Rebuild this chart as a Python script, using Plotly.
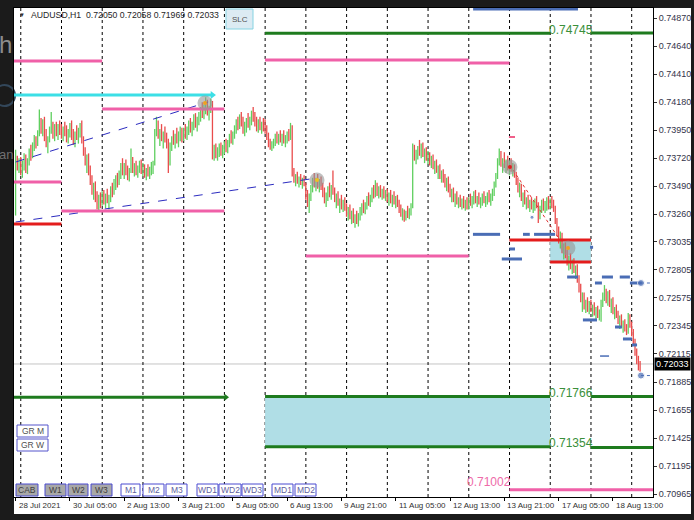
import plotly.graph_objects as go

# ---------------- data (AUDUSD H1) ----------------
# bar 0 = 28 Jul 21:00, one bar per hour (trading hours only)
highs = [
    0.7379, 0.7374, 0.7372,
    0.7373, 0.7370, 0.7376, 0.7375, 0.7372, 0.7380, 0.7383, 0.7385, 0.7391, 0.7390, 0.7395, 0.7412, 0.7405, 0.7404, 0.7406, 0.7396, 0.7390, 0.7398, 0.7410, 0.7402, 0.7400, 0.7402, 0.7400, 0.7403,
    0.7400, 0.7398, 0.7402, 0.7399, 0.7396, 0.7401, 0.7403, 0.7396, 0.7394, 0.7399, 0.7397, 0.7401, 0.7403, 0.7390, 0.7381, 0.7375, 0.7376, 0.7366, 0.7358, 0.7352, 0.7353, 0.7345, 0.7342, 0.7344,
    0.7345, 0.7346, 0.7343, 0.7347, 0.7342, 0.7349, 0.7352, 0.7355, 0.7358, 0.7360, 0.7362, 0.7368, 0.7372, 0.7368, 0.7371, 0.7366, 0.7364, 0.7380, 0.7373, 0.7368, 0.7370, 0.7366, 0.7370, 0.7371,
    0.7368, 0.7367, 0.7364, 0.7367, 0.7365, 0.7369, 0.7370, 0.7396, 0.7406, 0.7403, 0.7396, 0.7400, 0.7394, 0.7398, 0.7393, 0.7388, 0.7385, 0.7390, 0.7395, 0.7392, 0.7397, 0.7394, 0.7398, 0.7397,
    0.7397, 0.7400, 0.7398, 0.7403, 0.7405, 0.7402, 0.7408, 0.7409, 0.7406, 0.7410, 0.7414, 0.7418, 0.7416, 0.7422, 0.7420, 0.7415, 0.7421, 0.7419, 0.7383, 0.7384, 0.7381, 0.7384, 0.7385, 0.7383,
    0.7386, 0.7388, 0.7387, 0.7392, 0.7395, 0.7394, 0.7399, 0.7404, 0.7406, 0.7408, 0.7410, 0.7406, 0.7402, 0.7405, 0.7409, 0.7406, 0.7411, 0.7414, 0.7410, 0.7406, 0.7404, 0.7406, 0.7402, 0.7405,
    0.7404, 0.7399, 0.7393, 0.7388, 0.7386, 0.7388, 0.7392, 0.7394, 0.7392, 0.7395, 0.7392, 0.7395, 0.7391, 0.7394, 0.7396, 0.7401, 0.7399, 0.7364, 0.7359, 0.7361, 0.7357, 0.7359, 0.7356, 0.7358,
    0.7352, 0.7346, 0.7343, 0.7350, 0.7356, 0.7360, 0.7356, 0.7359, 0.7355, 0.7357, 0.7352, 0.7348, 0.7344, 0.7349, 0.7352, 0.7350, 0.7362, 0.7348, 0.7343, 0.7345, 0.7339, 0.7342, 0.7338, 0.7340,
    0.7335, 0.7332, 0.7334, 0.7329, 0.7331, 0.7326, 0.7329, 0.7327, 0.7332, 0.7335, 0.7338, 0.7336, 0.7341, 0.7344, 0.7342, 0.7348, 0.7350, 0.7354, 0.7352, 0.7349, 0.7350, 0.7347, 0.7349, 0.7346,
    0.7347, 0.7344, 0.7346, 0.7342, 0.7345, 0.7341, 0.7342, 0.7338, 0.7334, 0.7331, 0.7330, 0.7329, 0.7333, 0.7331, 0.7335, 0.7384, 0.7383, 0.7379, 0.7382, 0.7387, 0.7384, 0.7385, 0.7380, 0.7381,
    0.7378, 0.7377, 0.7374, 0.7375, 0.7370, 0.7371, 0.7366, 0.7367, 0.7362, 0.7363, 0.7359, 0.7356, 0.7357, 0.7351, 0.7347, 0.7348, 0.7343, 0.7345, 0.7340, 0.7342, 0.7339, 0.7341, 0.7338, 0.7340,
    0.7340, 0.7343, 0.7341, 0.7345, 0.7346, 0.7341, 0.7344, 0.7340, 0.7343, 0.7345, 0.7341, 0.7344, 0.7346, 0.7343, 0.7347, 0.7353, 0.7360, 0.7372, 0.7380, 0.7378, 0.7372, 0.7377, 0.7371, 0.7374,
    0.7370, 0.7372, 0.7368, 0.7367, 0.7361, 0.7356, 0.7352, 0.7351, 0.7344, 0.7346, 0.7340, 0.7342, 0.7338, 0.7340, 0.7337, 0.7339, 0.7341, 0.7336, 0.7333, 0.7338, 0.7339, 0.7337, 0.7340, 0.7341,
    0.7339, 0.7341, 0.7338, 0.7333, 0.7323, 0.7316, 0.7312, 0.7311, 0.7302, 0.7303, 0.7297, 0.7292, 0.7294, 0.7289, 0.7290, 0.7284, 0.7285, 0.7276, 0.7269, 0.7262, 0.7262, 0.7256, 0.7258, 0.7255,
    0.7256, 0.7252, 0.7254, 0.7250, 0.7251, 0.7248, 0.7256, 0.7262, 0.7268, 0.7265, 0.7263, 0.7264, 0.7257, 0.7258, 0.7250, 0.7252, 0.7247, 0.7243, 0.7244, 0.7239, 0.7240, 0.7236, 0.7245, 0.7244,
    0.7238, 0.7232, 0.7224, 0.7216, 0.7210, 0.72058,
]
lows = [
    0.7325, 0.7362, 0.7360,
    0.7358, 0.7356, 0.7362, 0.7360, 0.7359, 0.7366, 0.7370, 0.7372, 0.7378, 0.7380, 0.7382, 0.7390, 0.7392, 0.7390, 0.7386, 0.7381, 0.7376, 0.7385, 0.7392, 0.7388, 0.7386, 0.7390, 0.7387, 0.7391,
    0.7388, 0.7386, 0.7390, 0.7385, 0.7384, 0.7389, 0.7387, 0.7383, 0.7381, 0.7387, 0.7384, 0.7389, 0.7384, 0.7374, 0.7366, 0.7360, 0.7358, 0.7350, 0.7342, 0.7338, 0.7336, 0.7330, 0.7329, 0.7331,
    0.7333, 0.7334, 0.7331, 0.7335, 0.7330, 0.7336, 0.7340, 0.7342, 0.7346, 0.7348, 0.7350, 0.7355, 0.7358, 0.7355, 0.7358, 0.7354, 0.7353, 0.7360, 0.7360, 0.7357, 0.7358, 0.7356, 0.7360, 0.7359,
    0.7357, 0.7356, 0.7354, 0.7357, 0.7355, 0.7358, 0.7359, 0.7366, 0.7390, 0.7388, 0.7382, 0.7386, 0.7380, 0.7385, 0.7380, 0.7360, 0.7366, 0.7378, 0.7383, 0.7380, 0.7384, 0.7381, 0.7386, 0.7385,
    0.7386, 0.7388, 0.7387, 0.7391, 0.7393, 0.7390, 0.7395, 0.7397, 0.7394, 0.7399, 0.7402, 0.7405, 0.7404, 0.7408, 0.7407, 0.7403, 0.7409, 0.7371, 0.7370, 0.7372, 0.7370, 0.7373, 0.7374, 0.7372,
    0.7375, 0.7377, 0.7376, 0.7381, 0.7384, 0.7383, 0.7388, 0.7392, 0.7395, 0.7396, 0.7398, 0.7392, 0.7390, 0.7393, 0.7397, 0.7395, 0.7399, 0.7402, 0.7398, 0.7394, 0.7393, 0.7395, 0.7392, 0.7394,
    0.7392, 0.7387, 0.7381, 0.7379, 0.7378, 0.7380, 0.7382, 0.7384, 0.7383, 0.7385, 0.7382, 0.7384, 0.7381, 0.7384, 0.7386, 0.7387, 0.7357, 0.7352, 0.7349, 0.7351, 0.7348, 0.7350, 0.7347, 0.7349,
    0.7338, 0.7332, 0.7327, 0.7337, 0.7344, 0.7348, 0.7345, 0.7347, 0.7344, 0.7346, 0.7340, 0.7335, 0.7332, 0.7337, 0.7340, 0.7338, 0.7342, 0.7336, 0.7331, 0.7333, 0.7327, 0.7330, 0.7328, 0.7329,
    0.7324, 0.7321, 0.7322, 0.7318, 0.7319, 0.7315, 0.7318, 0.7316, 0.7321, 0.7325, 0.7327, 0.7326, 0.7330, 0.7333, 0.7332, 0.7336, 0.7339, 0.7340, 0.7341, 0.7339, 0.7340, 0.7338, 0.7339, 0.7337,
    0.7336, 0.7333, 0.7335, 0.7332, 0.7334, 0.7331, 0.7332, 0.7327, 0.7324, 0.7321, 0.7320, 0.7321, 0.7323, 0.7322, 0.7325, 0.7331, 0.7370, 0.7367, 0.7371, 0.7374, 0.7372, 0.7373, 0.7368, 0.7370,
    0.7367, 0.7366, 0.7364, 0.7363, 0.7359, 0.7360, 0.7355, 0.7355, 0.7352, 0.7352, 0.7348, 0.7345, 0.7344, 0.7340, 0.7336, 0.7336, 0.7332, 0.7334, 0.7331, 0.7332, 0.7330, 0.7331, 0.7329, 0.7330,
    0.7330, 0.7333, 0.7331, 0.7334, 0.7335, 0.7332, 0.7334, 0.7331, 0.7333, 0.7335, 0.7332, 0.7334, 0.7336, 0.7333, 0.7337, 0.7341, 0.7348, 0.7355, 0.7366, 0.7365, 0.7360, 0.7364, 0.7360, 0.7362,
    0.7358, 0.7361, 0.7357, 0.7356, 0.7350, 0.7344, 0.7340, 0.7337, 0.7332, 0.7334, 0.7330, 0.7331, 0.7328, 0.7330, 0.7327, 0.7329, 0.7331, 0.7319, 0.7322, 0.7327, 0.7329, 0.7327, 0.7329, 0.7330,
    0.7330, 0.7331, 0.7328, 0.7318, 0.7308, 0.7302, 0.7298, 0.7294, 0.7289, 0.7290, 0.7284, 0.7280, 0.7281, 0.7277, 0.7278, 0.7273, 0.7270, 0.7262, 0.7254, 0.7246, 0.7248, 0.7245, 0.7246, 0.7244,
    0.7246, 0.7242, 0.7243, 0.7240, 0.7241, 0.7239, 0.7238, 0.7250, 0.7255, 0.7253, 0.7251, 0.7250, 0.7245, 0.7244, 0.7240, 0.7241, 0.7236, 0.7232, 0.7233, 0.7229, 0.7230, 0.7227, 0.7228, 0.7233,
    0.7226, 0.7218, 0.7210, 0.7203, 0.7198, 0.71969,
]
closes = [
    0.7375, 0.7366, 0.7369,
    0.7362, 0.7366, 0.7372, 0.7363, 0.7370, 0.7377, 0.7374, 0.7383, 0.7388, 0.7384, 0.7393, 0.7402, 0.7398, 0.7400, 0.7390, 0.7385, 0.7388, 0.7396, 0.7397, 0.7392, 0.7396, 0.7393, 0.7397, 0.7395,
    0.7391, 0.7395, 0.7393, 0.7388, 0.7394, 0.7397, 0.7390, 0.7386, 0.7392, 0.7390, 0.7395, 0.7398, 0.7387, 0.7377, 0.7370, 0.7372, 0.7362, 0.7353, 0.7346, 0.7349, 0.7340, 0.7333, 0.7339, 0.7336,
    0.7340, 0.7337, 0.7341, 0.7338, 0.7339, 0.7347, 0.7344, 0.7353, 0.7356, 0.7351, 0.7360, 0.7365, 0.7361, 0.7366, 0.7362, 0.7357, 0.7362, 0.7370, 0.7363, 0.7366, 0.7361, 0.7364, 0.7367, 0.7362,
    0.7365, 0.7359, 0.7362, 0.7360, 0.7363, 0.7366, 0.7368, 0.7394, 0.7398, 0.7391, 0.7393, 0.7389, 0.7392, 0.7388, 0.7383, 0.7372, 0.7382, 0.7387, 0.7386, 0.7390, 0.7388, 0.7392, 0.7395, 0.7390,
    0.7394, 0.7392, 0.7396, 0.7400, 0.7396, 0.7399, 0.7405, 0.7400, 0.7403, 0.7407, 0.7412, 0.7409, 0.7414, 0.7418, 0.7410, 0.7413, 0.7416, 0.7376, 0.7380, 0.7375, 0.7378, 0.7381, 0.7377, 0.7381,
    0.7384, 0.7380, 0.7385, 0.7390, 0.7387, 0.7392, 0.7397, 0.7401, 0.7398, 0.7405, 0.7401, 0.7396, 0.7399, 0.7403, 0.7400, 0.7404, 0.7409, 0.7405, 0.7402, 0.7397, 0.7401, 0.7398, 0.7400, 0.7397,
    0.7395, 0.7389, 0.7384, 0.7381, 0.7384, 0.7386, 0.7390, 0.7387, 0.7390, 0.7388, 0.7391, 0.7386, 0.7389, 0.7392, 0.7388, 0.7398, 0.7361, 0.7356, 0.7357, 0.7353, 0.7355, 0.7352, 0.7354, 0.7351,
    0.7341, 0.7336, 0.7340, 0.7348, 0.7353, 0.7351, 0.7354, 0.7350, 0.7352, 0.7348, 0.7343, 0.7338, 0.7341, 0.7346, 0.7343, 0.7347, 0.7345, 0.7339, 0.7340, 0.7335, 0.7337, 0.7333, 0.7336, 0.7331,
    0.7327, 0.7329, 0.7324, 0.7326, 0.7321, 0.7323, 0.7320, 0.7325, 0.7329, 0.7333, 0.7330, 0.7334, 0.7338, 0.7336, 0.7340, 0.7345, 0.7342, 0.7351, 0.7344, 0.7347, 0.7342, 0.7345, 0.7341, 0.7344,
    0.7339, 0.7342, 0.7337, 0.7340, 0.7336, 0.7338, 0.7334, 0.7330, 0.7326, 0.7328, 0.7322, 0.7327, 0.7325, 0.7329, 0.7333, 0.7378, 0.7373, 0.7376, 0.7380, 0.7377, 0.7382, 0.7375, 0.7377, 0.7372,
    0.7375, 0.7369, 0.7372, 0.7366, 0.7368, 0.7362, 0.7364, 0.7357, 0.7360, 0.7355, 0.7351, 0.7354, 0.7347, 0.7343, 0.7345, 0.7339, 0.7341, 0.7336, 0.7338, 0.7334, 0.7337, 0.7333, 0.7336, 0.7332,
    0.7338, 0.7335, 0.7339, 0.7342, 0.7337, 0.7339, 0.7336, 0.7338, 0.7341, 0.7337, 0.7339, 0.7342, 0.7338, 0.7341, 0.7345, 0.7351, 0.7358, 0.7370, 0.7376, 0.7368, 0.7370, 0.7366, 0.7368, 0.7364,
    0.7367, 0.7363, 0.7365, 0.7358, 0.7352, 0.7347, 0.7349, 0.7340, 0.7342, 0.7336, 0.7338, 0.7333, 0.7336, 0.7332, 0.7335, 0.7337, 0.7333, 0.7325, 0.7331, 0.7335, 0.7332, 0.7335, 0.7338, 0.7333,
    0.7337, 0.7334, 0.7330, 0.7320, 0.7311, 0.7305, 0.7308, 0.7297, 0.7299, 0.7293, 0.7286, 0.7290, 0.7283, 0.7286, 0.7280, 0.7282, 0.7272, 0.7265, 0.7257, 0.7258, 0.7250, 0.7253, 0.7249, 0.7252,
    0.7248, 0.7250, 0.7245, 0.7247, 0.7243, 0.7246, 0.7254, 0.7259, 0.7261, 0.7256, 0.7260, 0.7252, 0.7254, 0.7246, 0.7248, 0.7243, 0.7238, 0.7240, 0.7235, 0.7236, 0.7232, 0.7229, 0.7242, 0.7236,
    0.7229, 0.7220, 0.7213, 0.7206, 0.72050, 0.72033,
]
first_open = 0.7330

day_start_bars = [3, 27, 51, 75, 99, 123, 147, 171, 195, 219, 243, 267, 291, 315, 339, 363]
time_label_bars = [0, 32, 64, 96, 128, 160, 192, 224, 256, 288, 320, 352]
time_labels = ["28 Jul 2021", "30 Jul 05:00", "2 Aug 13:00", "3 Aug 21:00", "5 Aug 05:00",
               "6 Aug 13:00", "9 Aug 21:00", "11 Aug 05:00", "12 Aug 13:00", "13 Aug 21:00",
               "17 Aug 05:00", "18 Aug 13:00"]
price_ticks = [0.74870, 0.74640, 0.74410, 0.74180, 0.73950, 0.73720, 0.73490, 0.73260, 0.73035,
               0.72805, 0.72575, 0.72345, 0.72115, 0.71885, 0.71655, 0.71425, 0.71195, 0.70965]
last_price = 0.72033
header = "AUDUSD,H1  0.72050 0.72058 0.71969 0.72033"

# levels: price, first bar, last bar
pink_prices = [0.74517, 0.74526, 0.74501, 0.74124, 0.73525, 0.73287, 0.72918, 0.71002]
pink_from = [-2, 147, 267, 51, -2, 27, 171, 291]
pink_to = [51, 267, 291, 123, 27, 123, 267, 380]
green_prices = [0.74745, 0.74748, 0.71760, 0.71766, 0.71766, 0.71354, 0.71348]
green_from = [147, 339, -2, 147, 339, 147, 339]
green_to = [315, 380, 124, 315, 380, 315, 380]
red_prices = [0.73181, 0.73049, 0.72869]
red_from = [-2, 291, 315]
red_to = [27, 339, 339]
cyan_price = 0.74239
cyan_from, cyan_to = -2, 116
zone_low = [0.72869, 0.71354]
zone_high = [0.73049, 0.71766]
zone_from = [315, 147]
zone_to = [339, 315]
level_labels = ["0.74745", "0.71766", "0.71354", "0.71002"]
level_label_price = [0.74745, 0.71766, 0.71354, 0.71002]
level_label_bar = [313.2, 313.2, 313.2, 264.8]

blue_prices = [0.73096, 0.73096, 0.73096, 0.72976, 0.72894, 0.72746, 0.72746, 0.72746,
               0.72697, 0.72697, 0.72394, 0.72336, 0.72238, 0.72189, 0.72990, 0.74944]
blue_from = [269.5, 299.0, 305.5, 291.0, 286.5, 325.0, 345.5, 356.0,
             341.4, 362.0, 334.3, 353.2, 357.9, 363.2, 338.5, 269.6]
blue_to = [285.5, 303.0, 317.9, 294.3, 298.4, 331.4, 352.0, 362.0,
           345.5, 369.0, 342.6, 357.3, 363.2, 366.2, 340.3, 331.4]
thin_blue_price, thin_blue_from, thin_blue_to = 0.72098, 344.4, 352.0
blue_dot_bar = [368.5, 368.5, 304.3]
blue_dot_price = [0.72697, 0.71938, 0.73236]

trend_bars = [[0, 113.5], [0, 177.6]]
trend_prices = [[0.73689, 0.74181], [0.73197, 0.73558]]
red_trend_bars = [293.1, 320.8]
red_trend_prices = [0.73624, 0.73049]
circle_bars = [111.6, 177.6, 291.3, 325.5]
circle_prices = [0.74173, 0.73541, 0.73648, 0.72984]
pink_tick_price, pink_tick_from, pink_tick_to = 0.73894, 290.7, 294.3

# ---------------- layout geometry ----------------
W, H = 694, 520
PL, PR, PT, PB = 14, 653, 8, 497
XR = [-0.94, 375.6]
YR = [0.709422, 0.74952]
FONT = "Liberation Sans, Arial, sans-serif"


def ppx(p):
    return (p - PL) / (PR - PL)


def ppy(p):
    return (PB - p) / (PB - PT)


fig = go.Figure()
shapes = []
annos = []

# chart window background (white, includes axis areas)
shapes.append(dict(type="rect", xref="paper", yref="paper", x0=ppx(14), x1=ppx(691),
                   y0=ppy(514), y1=ppy(8), fillcolor="white", line=dict(width=0), layer="below"))

# zones
for lo, hi, a, b in zip(zone_low, zone_high, zone_from, zone_to):
    shapes.append(dict(type="rect", xref="x", yref="y", x0=a, x1=b, y0=lo, y1=hi,
                       fillcolor="#b0dee6", line=dict(width=0), layer="below"))

# bid line
shapes.append(dict(type="line", xref="paper", yref="y", x0=0, x1=1, y0=last_price, y1=last_price,
                   line=dict(color="#c4c4c4", width=1), layer="below"))

# day separators
for d in day_start_bars:
    shapes.append(dict(type="line", xref="x", yref="paper", x0=d + 0.05, x1=d + 0.05, y0=0, y1=1,
                       line=dict(color="#000000", width=1, dash="dot"), layer="below"))

# ---------------- candles ----------------
opens = [first_open] + closes[:-1]
ux, uy, dx, dy = [], [], [], []
for i, (o, h, l, c) in enumerate(zip(opens, highs, lows, closes)):
    if c >= o:
        ux += [i, i, None]
        uy += [l, h, None]
    else:
        dx += [i, i, None]
        dy += [l, h, None]
fig.add_trace(go.Scatter(x=ux, y=uy, mode="lines", line=dict(color="#5fcf5f", width=1.3),
                         hoverinfo="skip", showlegend=False))
fig.add_trace(go.Scatter(x=dx, y=dy, mode="lines", line=dict(color="#e94c4c", width=1.3),
                         hoverinfo="skip", showlegend=False))


def segs(prices, froms, tos, color, width, dash="solid"):
    xs, ys = [], []
    for p, a, b in zip(prices, froms, tos):
        xs += [a, b, None]
        ys += [p, p, None]
    fig.add_trace(go.Scatter(x=xs, y=ys, mode="lines", line=dict(color=color, width=width, dash=dash),
                             hoverinfo="skip", showlegend=False))


# trend lines
for tb, tp in zip(trend_bars, trend_prices):
    fig.add_trace(go.Scatter(x=tb, y=tp, mode="lines", line=dict(color="#2c2cc0", width=1, dash="dash"),
                             hoverinfo="skip", showlegend=False))
fig.add_trace(go.Scatter(x=red_trend_bars, y=red_trend_prices, mode="lines",
                         line=dict(color="#e03030", width=1, dash="dot"), hoverinfo="skip", showlegend=False))

segs(pink_prices, pink_from, pink_to, "#f060a8", 3)
segs(green_prices, green_from, green_to, "#1e7b1e", 3)
segs(red_prices, red_from, red_to, "#e41c1c", 3)
segs([cyan_price], [cyan_from], [cyan_to], "#3cdfe6", 3)
segs(blue_prices, blue_from, blue_to, "#4a6db5", 3)
segs([thin_blue_price], [thin_blue_from], [thin_blue_to], "#4a6db5", 1.5, "dash")
segs([pink_tick_price], [pink_tick_from], [pink_tick_to], "#f0608a", 2)

# dotted connectors from the last blue dots to the price scale
for b, p in zip(blue_dot_bar[:2], blue_dot_price[:2]):
    fig.add_trace(go.Scatter(x=[b, XR[1]], y=[p, p], mode="lines",
                             line=dict(color="#4a6db5", width=1, dash="dot"), hoverinfo="skip", showlegend=False))
fig.add_trace(go.Scatter(x=blue_dot_bar, y=blue_dot_price, mode="markers",
                         marker=dict(color="#4a6db5", size=[7, 7, 4]), hoverinfo="skip", showlegend=False))

# arrow tips
fig.add_trace(go.Scatter(x=[cyan_to], y=[cyan_price], mode="markers",
                         marker=dict(symbol="triangle-right", color="#3cdfe6", size=7),
                         hoverinfo="skip", showlegend=False))
fig.add_trace(go.Scatter(x=[green_to[2]], y=[green_prices[2]], mode="markers",
                         marker=dict(symbol="triangle-right", color="#1e7b1e", size=6),
                         hoverinfo="skip", showlegend=False))

# grey circles with small marks
fig.add_trace(go.Scatter(x=circle_bars, y=circle_prices, mode="markers",
                         marker=dict(color="rgba(150,150,150,0.6)", size=15, line=dict(width=0)),
                         hoverinfo="skip", showlegend=False))
fig.add_trace(go.Scatter(x=circle_bars, y=circle_prices, mode="markers",
                         marker=dict(color=["#f0a020", "#f0c020", "#e02020", "#f0a020"], size=4),
                         hoverinfo="skip", showlegend=False))

# level labels
lab_colors = ["#3a8f3a", "#3a8f3a", "#3a8f3a", "#ee6aa8"]
lab_shift = [3, 3.5, 4, 8]
for t, p, b, c, s in zip(level_labels, level_label_price, level_label_bar, lab_colors, lab_shift):
    annos.append(dict(x=b, y=p, xref="x", yref="y", text=t, showarrow=False, xanchor="left",
                      yanchor="middle", yshift=s, font=dict(family=FONT, size=12, color=c)))

# time axis labels (left aligned next to their tick)
for b, t in zip(time_label_bars, time_labels):
    annos.append(dict(x=b, y=ppy(505), xref="x", yref="paper", text=t, showarrow=False,
                      xanchor="left", yanchor="middle", xshift=1,
                      font=dict(family=FONT, size=8, color="#303030")))

# current price box
annos.append(dict(x=1, y=last_price, xref="paper", yref="y", text=f"{last_price:.5f}", showarrow=False,
                  xanchor="left", yanchor="middle", bgcolor="#000000", borderpad=1, xshift=1,
                  font=dict(family=FONT, size=9, color="white")))

# header
annos.append(dict(x=ppx(21.5), y=ppy(15), xref="paper", yref="paper", text="▼", showarrow=False,
                  xanchor="center", yanchor="middle", font=dict(family=FONT, size=6, color="#303030")))
annos.append(dict(x=ppx(29), y=ppy(15), xref="paper", yref="paper", text=header, showarrow=False,
                  xanchor="left", yanchor="middle", font=dict(family=FONT, size=8.7, color="#262626")))


def button(x0, x1, y0, y1, text, fill, border, tcolor="#505050", size=8):
    shapes.append(dict(type="rect", xref="paper", yref="paper", x0=ppx(x0), x1=ppx(x1),
                       y0=ppy(y1), y1=ppy(y0), fillcolor=fill, line=dict(color=border, width=1),
                       layer="above"))
    annos.append(dict(x=ppx((x0 + x1) / 2), y=ppy((y0 + y1) / 2), xref="paper", yref="paper",
                      text=text, showarrow=False, xanchor="center", yanchor="middle",
                      font=dict(family=FONT, size=size, color=tcolor)))


button(226, 253, 9, 29, "SLC", "#dcebf3", "#86d3e2", "#505050", 8)
button(17, 48, 425, 437, "GR M", "white", "#5555cc", "#505050", 8.5)
button(17, 48, 439, 451, "GR W", "white", "#5555cc", "#505050", 8.5)
bottom_buttons = [(16, 38, "CAB", "#a8a8a8"), (45, 66, "W1", "#a8a8a8"), (68, 88, "W2", "#a8a8a8"),
                  (91, 112, "W3", "#a8a8a8"), (121, 140, "M1", "white"), (143, 164, "M2", "white"),
                  (166, 187, "M3", "white"), (197, 218, "WD1", "white"), (219, 241, "WD2", "white"),
                  (242, 263, "WD3", "white"), (272, 293, "MD1", "white"), (295, 316, "MD2", "white")]
for a, b, t, f in bottom_buttons:
    button(a, b, 484, 496, t, f, "#4a4ad0", "#404040" if f != "white" else "#6060a0", 8.5)

# background page bits visible at the left edge
annos.append(dict(x=ppx(5), y=ppy(44), xref="paper", yref="paper", text="h", showarrow=False,
                  xanchor="center", yanchor="middle", font=dict(family=FONT, size=24, color="#8c8c8c")))
shapes.append(dict(type="circle", xref="paper", yref="paper", x0=ppx(-6), x1=ppx(15),
                   y0=ppy(106), y1=ppy(85), line=dict(color="#33475a", width=2), layer="below"))
annos.append(dict(x=ppx(6), y=ppy(154), xref="paper", yref="paper", text="an", showarrow=False,
                  xanchor="center", yanchor="middle", font=dict(family=FONT, size=13, color="#707070")))

fig.update_layout(
    width=W, height=H, autosize=False,
    margin=dict(l=PL, r=W - PR, t=PT, b=H - PB, pad=0, autoexpand=False),
    paper_bgcolor="#1b1b1b", plot_bgcolor="white",
    showlegend=False, hovermode=False,
    shapes=shapes, annotations=annos,
    xaxis=dict(range=XR, showgrid=False, zeroline=False, showline=True, mirror=True, automargin=False,
               linecolor="#000000", linewidth=1, tickvals=time_label_bars, ticks="outside",
               ticklen=3, tickcolor="#000000", showticklabels=False, fixedrange=True),
    yaxis=dict(range=YR, side="right", showgrid=False, zeroline=False, showline=True, mirror=True,
               automargin=False,
               linecolor="#000000", linewidth=1, tickvals=price_ticks,
               ticktext=[f"{v:.5f}" for v in price_ticks], ticks="outside", ticklen=3,
               tickcolor="#303030", tickfont=dict(family=FONT, size=9, color="#34344a"),
               fixedrange=True),
)

fig.write_html(
    "out.html",
    config={"displayModeBar": False},
    post_script="document.body.style.margin='0px';document.body.style.padding='0px';"
                "document.body.style.background='#1b1b1b';document.body.style.overflow='hidden';",
)
